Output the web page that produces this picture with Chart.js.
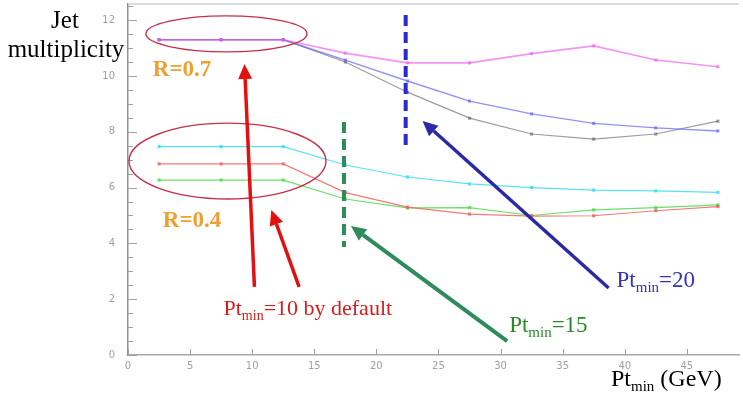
<!DOCTYPE html>
<html>
<head>
<meta charset="utf-8">
<title>Jet multiplicity vs Pt min</title>
<style>
  html, body { margin: 0; padding: 0; background: #fff; }
  #wrap { position: relative; width: 743px; height: 395px; }
</style>
<script src="https://cdn.jsdelivr.net/npm/chart.js@4.4.1/dist/chart.umd.min.js"></script>
</head>
<body>
<div id="wrap"><canvas id="chart" width="743" height="395"></canvas></div>
<script>
// bin centres on the x axis (GeV)
var ptMin = [2.5, 7.5, 12.5, 17.5, 22.5, 27.5, 32.5, 37.5, 42.5, 47.5]

// R = 0.7 curves
var r07Magenta = [11.3, 11.3, 11.3, 10.82, 10.47, 10.47, 10.8, 11.08, 10.57, 10.33]
var r07Blue    = [11.3, 11.3, 11.3, 10.57, 9.82, 9.1, 8.64, 8.3, 8.14, 8.03]
var r07Black   = [11.3, 11.3, 11.3, 10.5, 9.42, 8.49, 7.92, 7.74, 7.92, 8.38]

// R = 0.4 curves
var r04Cyan  = [7.47, 7.47, 7.47, 6.81, 6.38, 6.13, 6.0, 5.91, 5.88, 5.83]
var r04Red   = [6.85, 6.85, 6.85, 5.82, 5.3, 5.05, 4.98, 4.99, 5.17, 5.32]
var r04Green = [6.27, 6.27, 6.27, 5.59, 5.27, 5.28, 5.0, 5.2, 5.28, 5.38]

var xTicks = [0, 5, 10, 15, 20, 25, 30, 35, 40, 45]
var yTicks = [0, 2, 4, 6, 8, 10, 12]
var yMinorStep = 0.5

function pts (ys) {
  var out = []
  for (var i = 0; i < ptMin.length; i++) out.push({ x: ptMin[i], y: ys[i] })
  return out
}

function series (ys, color, w) {
  return {
    data: pts(ys),
    borderColor: color,
    backgroundColor: color,
    borderWidth: w || 1.2,
    pointStyle: 'rect',
    pointRadius: 2.2,
    pointBorderWidth: 0,
    tension: 0
  }
}

var serif = '"Liberation Serif", "Times New Roman", serif'

// "Pt" with a "min" subscript followed by some more text
function ptText (ctx, x, y, rest, size, color) {
  ctx.save()
  ctx.fillStyle = color
  ctx.textBaseline = 'alphabetic'
  ctx.textAlign = 'left'
  ctx.font = size + 'px ' + serif
  ctx.fillText('Pt', x, y)
  x += ctx.measureText('Pt').width
  var sub = Math.round(size * 0.64)
  ctx.font = sub + 'px ' + serif
  ctx.fillText('min', x, y + size * 0.22)
  x += ctx.measureText('min').width
  ctx.font = size + 'px ' + serif
  ctx.fillText(rest, x, y)
  ctx.restore()
}

function arrow (ctx, x1, y1, x2, y2, color, w) {
  var ang = Math.atan2(y2 - y1, x2 - x1)
  var head = 15, half = 7
  var bx = x2 - Math.cos(ang) * head
  var by = y2 - Math.sin(ang) * head
  ctx.save()
  ctx.strokeStyle = color
  ctx.fillStyle = color
  ctx.lineWidth = w
  ctx.beginPath()
  ctx.moveTo(x1, y1)
  ctx.lineTo(bx, by)
  ctx.stroke()
  ctx.beginPath()
  ctx.moveTo(x2, y2)
  ctx.lineTo(bx + Math.sin(ang) * half, by - Math.cos(ang) * half)
  ctx.lineTo(bx - Math.sin(ang) * half, by + Math.cos(ang) * half)
  ctx.closePath()
  ctx.fill()
  ctx.restore()
}

// frame, inward tick marks
var frame = {
  id: 'frame',
  beforeDatasetsDraw: function (chart) {
    var ctx = chart.ctx, a = chart.chartArea
    var xs = chart.scales.x, ys = chart.scales.y
    ctx.save()
    ctx.strokeStyle = '#d0d0d0'
    ctx.lineWidth = 1.5
    ctx.beginPath()
    ctx.moveTo(a.left, a.top)
    ctx.lineTo(a.right, a.top)
    ctx.stroke()

    ctx.strokeStyle = '#a0a0a0'
    ctx.lineWidth = 1
    ctx.beginPath()
    for (var v = 0; v <= ys.max; v += yMinorStep) {
      var py = Math.round(ys.getPixelForValue(v)) + 0.5
      var len = (v % 2 === 0) ? 9 : 5
      ctx.moveTo(a.left, py)
      ctx.lineTo(a.left + len, py)
    }
    for (var i = 0; i < xTicks.length; i++) {
      var px = Math.round(xs.getPixelForValue(xTicks[i])) + 0.5
      ctx.moveTo(px, a.bottom)
      ctx.lineTo(px, a.bottom - 6)
    }
    ctx.stroke()
    ctx.restore()
  }
}

// hand drawn style annotations, placed in data units
var notes = {
  id: 'notes',
  afterDraw: function (chart) {
    var ctx = chart.ctx
    var xs = chart.scales.x, ys = chart.scales.y
    function X (v) { return xs.getPixelForValue(v) }
    function Y (v) { return ys.getPixelForValue(v) }

    // axis titles
    ctx.save()
    ctx.fillStyle = '#000'
    ctx.font = '25px ' + serif
    ctx.textAlign = 'center'
    ctx.fillText('Jet', 65, 28)
    ctx.fillText('multiplicity', 66, 57)
    ctx.restore()
    ptText(ctx, 611, 386, ' (GeV)', 24, '#000')

    // ellipses round the low-Pt points
    ctx.save()
    ctx.strokeStyle = '#c4304a'
    ctx.lineWidth = 1.4
    ctx.beginPath()
    ctx.ellipse(X(7.93), Y(11.51), X(6.49) - X(0), Y(0) - Y(0.645), 0, 0, Math.PI * 2)
    ctx.stroke()
    ctx.beginPath()
    ctx.ellipse(X(8.01), Y(6.95), X(7.93) - X(0), Y(0) - Y(1.36), 0, 0, Math.PI * 2)
    ctx.stroke()
    ctx.restore()

    // R labels
    ctx.save()
    ctx.fillStyle = '#f0a030'
    ctx.font = 'bold 23px ' + serif
    ctx.fillText('R=0.7', X(2.0), Y(10.0))
    ctx.fillText('R=0.4', X(2.8), Y(4.59))
    ctx.restore()

    // dashed Pt cuts
    ctx.save()
    ctx.lineWidth = 4
    ctx.setLineDash([11, 6])
    ctx.strokeStyle = '#2a2ad4'
    ctx.beginPath()
    ctx.moveTo(X(22.36), Y(12.19))
    ctx.lineTo(X(22.36), Y(7.53))
    ctx.stroke()
    ctx.strokeStyle = '#2e8b5c'
    ctx.beginPath()
    ctx.moveTo(X(17.39), Y(8.35))
    ctx.lineTo(X(17.39), Y(3.87))
    ctx.stroke()
    ctx.restore()

    // arrows
    arrow(ctx, X(10.18), Y(2.44), X(9.38), Y(10.43), '#e41010', 3.5)
    arrow(ctx, X(13.78), Y(2.44), X(11.54), Y(5.2), '#e41010', 3.5)
    arrow(ctx, X(30.53), Y(0.5), X(17.95), Y(4.62), '#2e8b5c', 4)
    arrow(ctx, X(38.7), Y(2.4), X(23.72), Y(8.39), '#2a2aa8', 3.5)

    // labels
    ptText(ctx, X(7.69), Y(1.43), '=10 by default', 22, '#d81c1c')
    ptText(ctx, X(39.34), Y(2.44), '=20', 23, '#3434b8')
    ptText(ctx, X(30.69), Y(0.82), '=15', 23, '#2a8a2a')
  }
}

function noPad (s) {
  s.paddingTop = 0
  s.paddingBottom = 0
  s.paddingLeft = 0
  s.paddingRight = 0
}

var ctx = document.getElementById('chart').getContext('2d')

// first dataset is painted last (on top)
new Chart(ctx, {
  type: 'line',
  data: {
    datasets: [
      series(r07Magenta, 'rgba(236,90,236,0.65)', 1.6),
      series(r07Blue, 'rgba(100,100,240,0.7)', 1.4),
      series(r07Black, 'rgba(90,90,90,0.6)', 1.2),
      series(r04Cyan, 'rgba(60,220,235,0.85)'),
      series(r04Red, 'rgba(236,100,100,0.85)'),
      series(r04Green, 'rgba(80,220,80,0.85)')
    ]
  },
  options: {
    responsive: false,
    animation: false,
    layout: { padding: { top: 4, right: 1, left: 0, bottom: 0 } },
    plugins: {
      legend: { display: false },
      tooltip: { enabled: false }
    },
    scales: {
      x: {
        type: 'linear',
        min: 0,
        max: 49.2,
        afterBuildTicks: function (s) { s.ticks = xTicks.map(function (v) { return { value: v } }) },
        afterFit: function (s) { s.height = 40; noPad(s) },
        grid: { display: false, drawTicks: false },
        border: { color: '#a8a8a8', width: 1.5 },
        ticks: {
          padding: 5,
          color: '#a0a0a0',
          maxRotation: 0,
          autoSkip: false,
          font: { family: '"DejaVu Sans", sans-serif', size: 10 }
        }
      },
      y: {
        min: 0,
        max: 12.58,
        afterBuildTicks: function (s) { s.ticks = yTicks.map(function (v) { return { value: v } }) },
        afterFit: function (s) { s.width = 128; noPad(s) },
        grid: { display: false, drawTicks: false },
        border: { color: '#909090', width: 1.5 },
        ticks: {
          padding: 13,
          color: '#a0a0a0',
          font: { family: '"DejaVu Sans", sans-serif', size: 10 }
        }
      }
    }
  },
  plugins: [frame, notes]
})
</script>
</body>
</html>
